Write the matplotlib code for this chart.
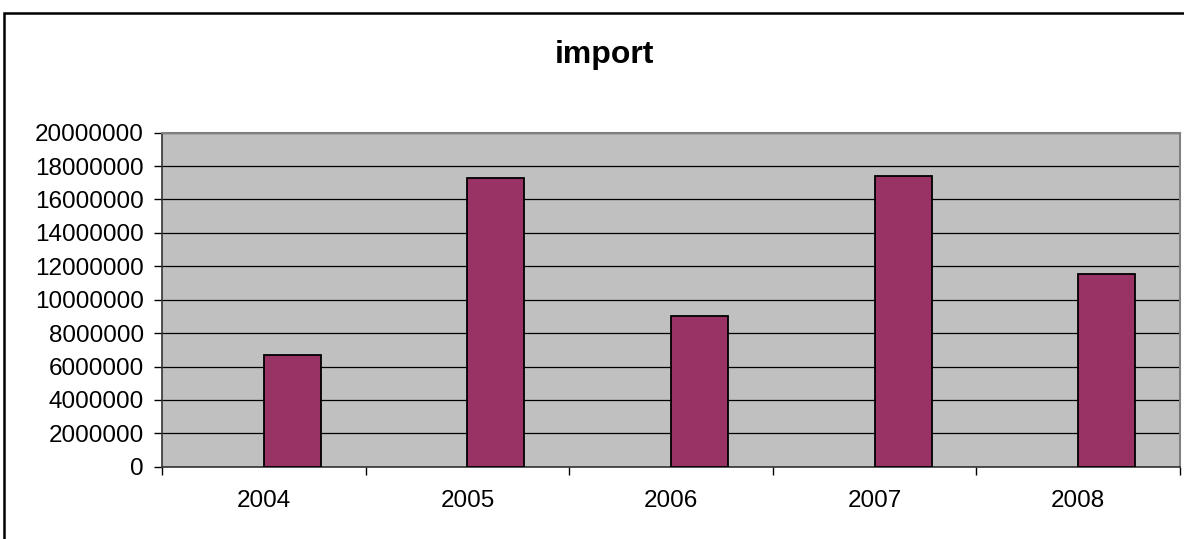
import matplotlib

matplotlib.use("Agg")
import matplotlib.pyplot as plt
import numpy as np
from matplotlib.patches import Rectangle

years = ["2004", "2005", "2006", "2007", "2008"]
imports = [6670000, 17300000, 9000000, 17420000, 11560000]
y_ticks = list(range(0, 20000001, 2000000))

plt.rcParams["font.family"] = ["Liberation Sans", "DejaVu Sans"]

W, H = 1184, 539
fig = plt.figure(figsize=(W / 100, H / 100), dpi=100)

# outer chart frame (only top/left visible in the reference)
frame = Rectangle((4 / W, -0.2), 1.2, (H - 13) / H + 0.2, transform=fig.transFigure,
                  fill=False, edgecolor="black", linewidth=1.8, clip_on=False)
fig.patches.append(frame)

ax = fig.add_axes([162 / W, (H - 466.7) / H, (1180 - 162) / W, (466.7 - 132.7) / H])
ax.set_facecolor("#c0c0c0")

x = np.arange(len(years))
ax.bar(x + 0.5, imports, width=0.28, align="edge", color="#993366",
       edgecolor="black", linewidth=1.3, zorder=3)

ax.set_xlim(0, len(years))
ax.set_ylim(0, 20000000)
ax.set_yticks(y_ticks)
ax.set_yticklabels([str(v) for v in y_ticks])
ax.yaxis.grid(True, color="black", linewidth=0.9, zorder=1)
ax.set_axisbelow(True)

ax.set_xticks(np.arange(len(years) + 1))
ax.set_xticklabels([])
ax.set_xticks(x + 0.5, minor=True)
ax.set_xticklabels(years, minor=True)
ax.tick_params(axis="x", which="major", direction="out", length=6, width=1)
ax.tick_params(axis="x", which="minor", length=0, pad=17, labelsize=17.5)
ax.tick_params(axis="y", direction="out", length=6, width=1, pad=7, labelsize=17.5)

for side in ["top", "right"]:
    ax.spines[side].set_color("#808080")
    ax.spines[side].set_linewidth(1.5)
for side in ["left", "bottom"]:
    ax.spines[side].set_color("#333333")
    ax.spines[side].set_linewidth(1.2)

fig.text(604 / W, (H - 55) / H, "import", ha="center", va="center",
         fontsize=23, fontweight="bold")

fig.savefig("out.png", dpi=100)
